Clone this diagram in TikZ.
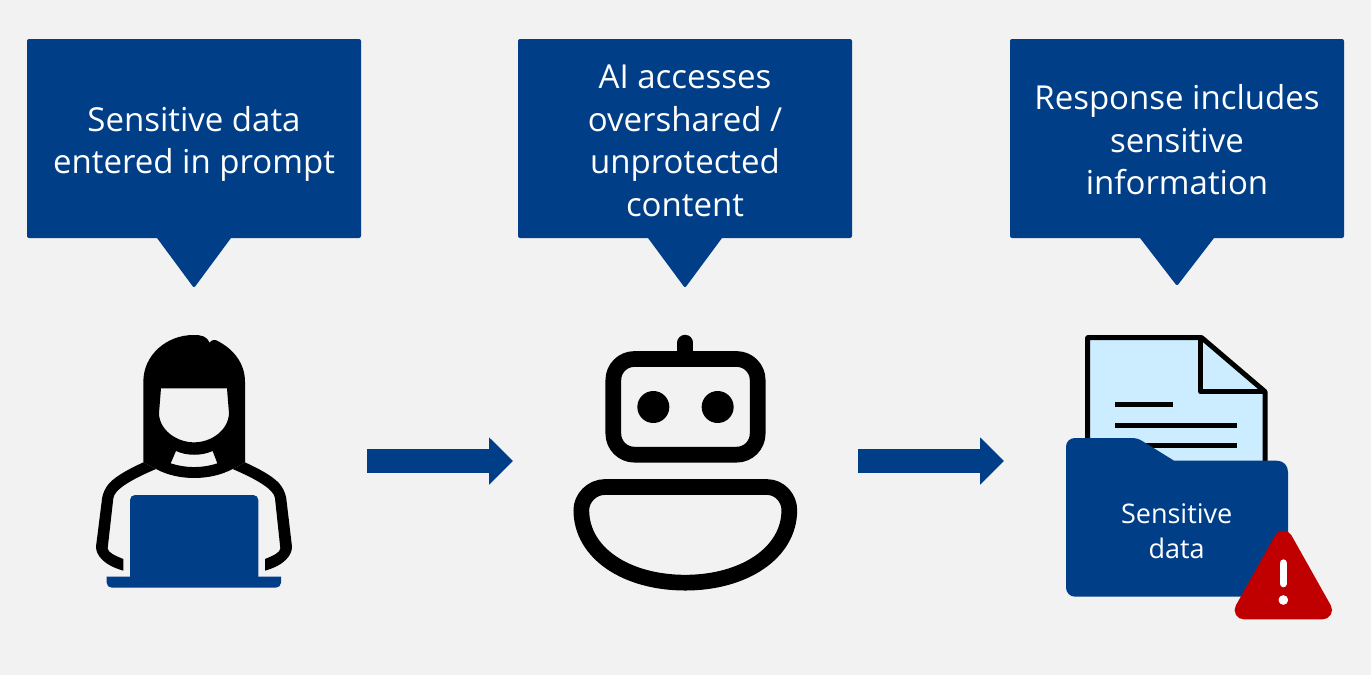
\documentclass[tikz,border=0pt]{standalone}
\usepackage{fontspec}
\setmainfont{Open Sans}
\usetikzlibrary{arrows.meta,shapes.callouts}
\definecolor{navy}{HTML}{003F87}
\definecolor{paper}{HTML}{F2F2F2}
\definecolor{sheet}{HTML}{CCECFF}
\definecolor{alert}{HTML}{C00000}
\newcommand{\ltop}{\rule{0pt}{37pt}}
\newcommand{\lbot}{\rule[-9.4pt]{0pt}{9.4pt}}

\begin{document}
\begin{tikzpicture}
  [x=1pt,y=-1pt,
   bubble/.style={rectangle callout,fill=navy,text=white,align=center,inner sep=0pt,
     minimum width=334pt,minimum height=199pt,rounded corners=2pt,callout pointer width=74pt,
     font=\fontsize{33}{42.5}\selectfont},
   flow/.style={navy,line width=24pt,arrows={-{Triangle[width=46pt,length=24pt]}}},
   stroke/.style={draw=black,line width=#1,line join=round},
   stroke/.default=15.7pt,
   icon/.style={shift={#1},scale=1/3}]
  \fill[paper] (0,0) rectangle (1371,675);
  \useasboundingbox (0,0) rectangle (1371,675);

  \node[bubble,callout absolute pointer={(194,288)}] (prompt) at (194,138.5) {\ltop Sensitive data\\\lbot entered in prompt};
  \node[bubble,callout absolute pointer={(685,288)}] (access) at (685,138.5) {\ltop AI accesses\\overshared /\\unprotected\\\lbot content};
  \node[bubble,callout absolute pointer={(1177,286)}] (response) at (1177,138.5) {\ltop Response includes\\sensitive\\\lbot information};

  \coordinate (a1) at (367,461);
  \coordinate (a2) at (513,461);
  \coordinate (b1) at (858,461);
  \coordinate (b2) at (1004,461);
  \draw[flow] (a1) -- (a2);
  \draw[flow] (b1) -- (b2);

  \begin{scope}[icon={(80,320)}]
    \fill[even odd rule] (190,427) -- (190,185) .. controls (190,105) and (260,45) .. (340,45)
      .. controls (365,45) and (380,48) .. (388,68) .. controls (392,62) and (400,58) .. (407,60)
      .. controls (460,85) and (495,130) .. (495,185) -- (495,427) -- (458,447)
      .. controls (390,483) and (295,483) .. (228,447) -- cycle
      (243,205) -- (441,205) -- (447,280) .. controls (445,330) and (395,367) .. (342,367)
      .. controls (290,367) and (238,330) .. (237,280) -- cycle
      (288,393) .. controls (320,408) and (365,408) .. (398,393) -- (412,430)
      .. controls (365,445) and (320,445) .. (272,430) -- cycle;
    \fill (190,427) .. controls (140,450) and (95,475) .. (80,500) .. controls (70,515) and (66,530) .. (65,545)
      -- (48,680) .. controls (48,705) and (70,735) .. (130,752) -- (130,717) .. controls (105,707) and (83,697) .. (83,685)
      -- (100,535) .. controls (102,510) and (150,480) .. (228,447) -- cycle;
    \fill (495,427) .. controls (545,450) and (590,475) .. (605,500) .. controls (615,515) and (619,530) .. (620,545)
      -- (636,680) .. controls (636,705) and (615,735) .. (555,752) -- (555,717) .. controls (580,707) and (601,697) .. (601,685)
      -- (585,535) .. controls (583,510) and (535,480) .. (458,447) -- cycle;
    \fill[navy,rounded corners=5pt] (150,790) -- (150,525) -- (535,525) -- (535,790) -- cycle;
    \fill[navy] (80,770) -- (603,770) [rounded corners=5pt] -- (603,803) -- (80,803) [sharp corners] -- cycle;
  \end{scope}

  \begin{scope}[icon={(560,320)}]
    \draw[stroke,rounded corners=21pt] (160,117) rectangle (593,404);
    \draw[black,line width=15.7pt,line cap=round] (376,68) -- (376,100);
    \fill (280,261) circle (48);
    \fill (473,261) circle (48);
    \draw[stroke] (135,501) -- (620,501) .. controls (660,501) and (688,535) .. (688,570)
      .. controls (688,700) and (550,788) .. (376,788) .. controls (200,788) and (64,700) .. (64,570)
      .. controls (64,535) and (95,501) .. (135,501) -- cycle;
  \end{scope}

  \begin{scope}[icon={(1050,320)}]
    \draw[stroke=5pt,fill=sheet,miter limit=10] (113,53) -- (455,53) -- (645,215) -- (645,440) -- (113,440) -- cycle;
    \draw[stroke=5pt] (452,55) -- (452,215) -- (645,215);
    \draw[black,line width=5pt] (195,253) -- (369,253) (195,316) -- (561,316) (195,377) -- (561,377);
    \fill[navy] (48,380) .. controls (48,365) and (60,354) .. (75,354) -- (250,354)
      .. controls (260,354) and (268,358) .. (275,362) -- (372,422) -- (680,422)
      .. controls (700,422) and (714,436) .. (714,456) -- (714,830) -- (75,830)
      .. controls (60,830) and (48,818) .. (48,803) -- cycle;
    \draw[alert,fill=alert,line width=18.7pt,line join=round] (700,660) -- (818,870) -- (582,870) -- cycle;
    \draw[white,line width=7.3pt,line cap=round] (700,729) -- (700,791);
    \fill[white] (700,840) circle (14.5);
    \node[text=white,align=center,font=\fontsize{27}{35}\selectfont] (folder) at (380,635) {Sensitive\\data};
  \end{scope}
\end{tikzpicture}
\end{document}
